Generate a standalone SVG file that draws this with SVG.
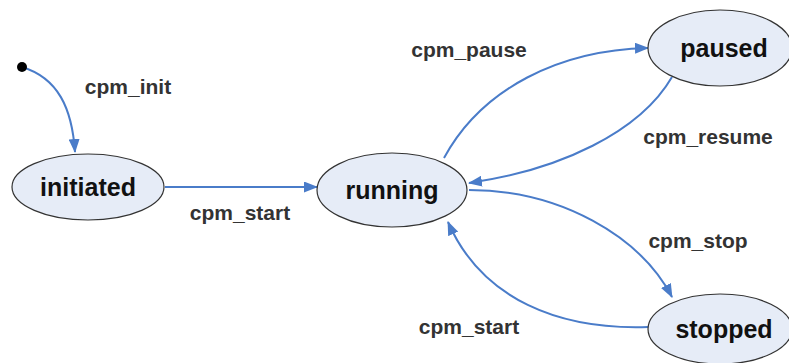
<svg xmlns="http://www.w3.org/2000/svg" width="789" height="363" viewBox="0 0 789 363">
<style>
.node ellipse{fill:#e6ecf7;stroke:#333;stroke-width:1.2}
.node text{font-family:"Liberation Sans",Arial,sans-serif;font-weight:bold;font-size:25px;fill:#111;text-anchor:middle}
.edge{fill:none;stroke:#4a7cc9;stroke-width:2;marker-end:url(#arr)}
.lbl{font-family:"Liberation Sans",Arial,sans-serif;font-weight:bold;font-size:21px;fill:#333;text-anchor:middle}
</style>
<defs>
<marker id="arr" viewBox="0 0 14 11" refX="13" refY="5.5" markerWidth="14" markerHeight="11" markerUnits="userSpaceOnUse" orient="auto">
<path d="M0,0 L14,5.5 L0,11 z" fill="#4a7cc9"/>
</marker>
</defs>
<rect width="789" height="363" fill="#fff"/>
<g id="connectors">
<path class="edge" d="M22,67 C58,78 72,108 75,152"/>
<path class="edge" d="M165,187 L317,187"/>
<path class="edge" d="M444,158 C482,88 560,50 648,48"/>
<path class="edge" d="M672,77 C640,132 560,170 469,183"/>
<path class="edge" d="M469,190 C560,190 640,236 672,297"/>
<path class="edge" d="M648,327 C560,330 482,300 448,222"/>
<text class="lbl" x="128" y="94">cpm_init</text>
<text class="lbl" x="240" y="220">cpm_start</text>
<text class="lbl" x="469" y="57">cpm_pause</text>
<text class="lbl" x="708" y="144">cpm_resume</text>
<text class="lbl" x="698" y="248">cpm_stop</text>
<text class="lbl" x="469" y="334">cpm_start</text>
</g>
<g id="start"><circle cx="22" cy="67" r="5" fill="#000"/></g>
<g id="initiated" class="node"><ellipse cx="88" cy="187" rx="76" ry="33"/><text x="88" y="196">initiated</text></g>
<g id="running" class="node"><ellipse cx="392" cy="190" rx="75" ry="37"/><text x="392" y="199">running</text></g>
<g id="paused" class="node"><ellipse cx="720" cy="48" rx="72" ry="38"/><text x="724" y="57">paused</text></g>
<g id="stopped" class="node"><ellipse cx="720" cy="329" rx="72" ry="35"/><text x="724" y="338">stopped</text></g>
</svg>
